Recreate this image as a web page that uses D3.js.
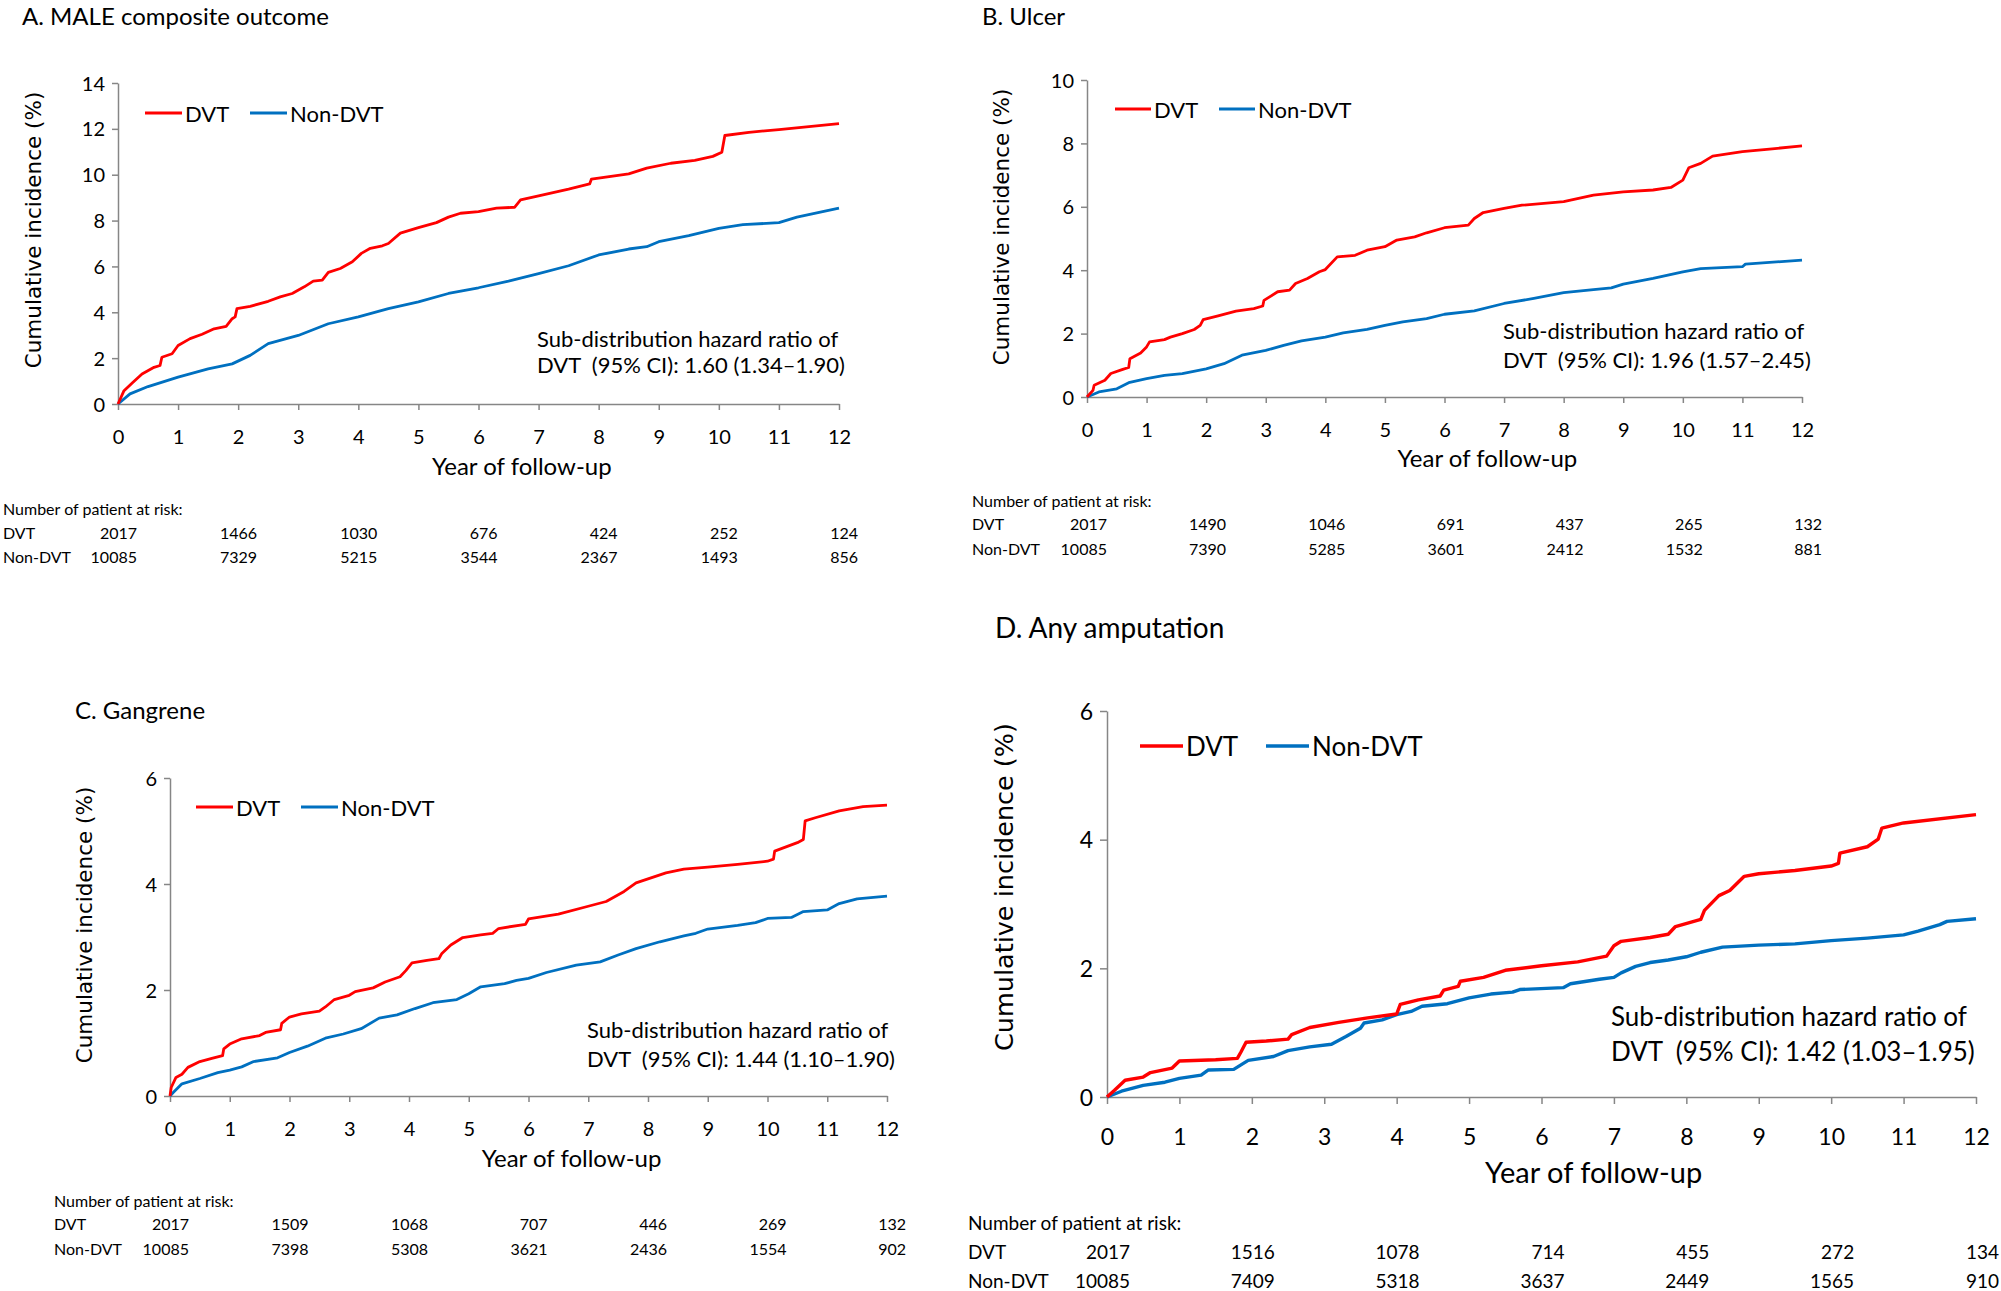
<!DOCTYPE html>
<html>
<head>
<meta charset="utf-8">
<script src="https://cdn.jsdelivr.net/npm/d3@7"></script>
<style>
  body { margin: 0; background: #fff; }
  svg { display: block; }
  .lato { font-family: Lato, "Open Sans", sans-serif; fill: #000; }
  .ytitle { font-family: "DejaVu Sans", Verdana, sans-serif; fill: #000; }
</style>
</head>
<body>
<svg id="chart" width="2001" height="1291"></svg>
<script>
// cumulative incidence (%): [year, value]
const maleDvt = [[0,0],[0.1,0.58],[0.25,0.95],[0.4,1.31],[0.6,1.6],[0.7,1.68],[0.73,2.04],[0.9,2.19],[1.0,2.55],[1.2,2.85],[1.4,3.04],[1.6,3.28],[1.8,3.39],[1.9,3.72],[1.95,3.8],[1.98,4.16],[2.2,4.26],[2.5,4.48],[2.7,4.67],[2.9,4.82],[3.1,5.11],[3.25,5.36],[3.4,5.4],[3.5,5.74],[3.7,5.91],[3.9,6.2],[4.05,6.57],[4.2,6.79],[4.4,6.9],[4.5,7.0],[4.7,7.45],[5.0,7.69],[5.3,7.91],[5.5,8.15],[5.7,8.32],[6.0,8.39],[6.3,8.54],[6.6,8.58],[6.7,8.9],[7.0,9.08],[7.5,9.37],[7.85,9.6],[7.88,9.81],[8.5,10.04],[8.8,10.29],[9.2,10.5],[9.6,10.63],[9.9,10.8],[10.05,10.98],[10.1,11.71],[10.5,11.85],[11,11.97],[12,12.23]];
const maleNon = [[0,0],[0.2,0.44],[0.5,0.76],[1.0,1.17],[1.5,1.53],[1.9,1.75],[2.2,2.12],[2.5,2.63],[3.0,2.99],[3.5,3.5],[4.0,3.8],[4.5,4.16],[5.0,4.45],[5.5,4.82],[6.0,5.07],[6.5,5.36],[7.0,5.69],[7.5,6.03],[8.0,6.5],[8.5,6.76],[8.8,6.86],[9.0,7.08],[9.5,7.34],[10.0,7.66],[10.4,7.82],[11.0,7.91],[11.3,8.15],[12,8.54]];
const ulcerDvt = [[0,0],[0.1,0.21],[0.12,0.37],[0.3,0.53],[0.4,0.74],[0.6,0.87],[0.7,0.93],[0.72,1.21],[0.9,1.39],[1.0,1.58],[1.05,1.74],[1.3,1.81],[1.4,1.89],[1.6,2.0],[1.8,2.13],[1.9,2.26],[1.95,2.44],[2.2,2.56],[2.5,2.71],[2.8,2.79],[2.95,2.87],[2.97,3.05],[3.2,3.32],[3.4,3.37],[3.5,3.58],[3.7,3.74],[3.9,3.95],[4.0,4.02],[4.2,4.42],[4.5,4.47],[4.7,4.63],[5.0,4.74],[5.2,4.95],[5.5,5.05],[5.7,5.18],[6.0,5.34],[6.4,5.42],[6.5,5.63],[6.65,5.82],[7.0,5.95],[7.3,6.05],[8.0,6.16],[8.5,6.37],[9.0,6.47],[9.5,6.53],[9.8,6.61],[10.0,6.84],[10.1,7.23],[10.3,7.37],[10.5,7.6],[11,7.74],[11.5,7.83],[12,7.92]];
const ulcerNon = [[0,0],[0.2,0.16],[0.5,0.26],[0.7,0.45],[1.0,0.58],[1.3,0.68],[1.6,0.74],[2.0,0.89],[2.3,1.05],[2.6,1.32],[3.0,1.47],[3.3,1.63],[3.6,1.77],[4.0,1.89],[4.3,2.02],[4.7,2.13],[5.0,2.26],[5.3,2.37],[5.7,2.47],[6.0,2.61],[6.5,2.72],[7.0,2.95],[7.5,3.11],[8.0,3.29],[8.5,3.39],[8.8,3.44],[9.0,3.56],[9.5,3.74],[10.0,3.95],[10.3,4.05],[11.0,4.11],[11.05,4.19],[12,4.32]];
const gangDvt = [[0,0],[0.02,0.16],[0.1,0.35],[0.2,0.41],[0.3,0.54],[0.5,0.65],[0.7,0.71],[0.88,0.76],[0.9,0.89],[1.0,0.98],[1.2,1.08],[1.5,1.14],[1.6,1.2],[1.85,1.25],[1.87,1.37],[2.0,1.49],[2.2,1.55],[2.5,1.6],[2.6,1.68],[2.75,1.82],[3.0,1.9],[3.1,1.97],[3.4,2.04],[3.6,2.15],[3.85,2.25],[3.95,2.37],[4.05,2.51],[4.3,2.56],[4.5,2.59],[4.55,2.69],[4.7,2.85],[4.9,2.99],[5.2,3.04],[5.4,3.07],[5.5,3.16],[5.95,3.24],[6.0,3.34],[6.5,3.43],[7.0,3.58],[7.3,3.67],[7.6,3.86],[7.8,4.02],[8.3,4.21],[8.6,4.28],[9.0,4.32],[9.5,4.37],[10.0,4.43],[10.1,4.47],[10.12,4.62],[10.5,4.78],[10.6,4.84],[10.63,5.19],[10.8,5.25],[11.2,5.38],[11.6,5.46],[12,5.49]];
const gangNon = [[0,0],[0.05,0.06],[0.2,0.23],[0.5,0.33],[0.8,0.44],[1.0,0.49],[1.2,0.55],[1.4,0.65],[1.8,0.72],[2.0,0.82],[2.3,0.94],[2.6,1.09],[2.9,1.17],[3.2,1.27],[3.5,1.47],[3.8,1.53],[4.1,1.65],[4.4,1.76],[4.8,1.82],[5.0,1.93],[5.2,2.06],[5.6,2.12],[5.8,2.18],[6.0,2.22],[6.3,2.33],[6.8,2.47],[7.2,2.53],[7.5,2.66],[7.8,2.78],[8.2,2.91],[8.6,3.02],[8.8,3.07],[9.0,3.15],[9.5,3.22],[9.8,3.27],[10.0,3.35],[10.4,3.37],[10.6,3.48],[11.0,3.51],[11.2,3.63],[11.5,3.72],[12,3.77]];
const ampDvt = [[0,0],[0.1,0.1],[0.25,0.26],[0.5,0.31],[0.6,0.38],[0.9,0.45],[1.0,0.56],[1.5,0.58],[1.8,0.6],[1.85,0.7],[1.92,0.85],[2.2,0.87],[2.5,0.9],[2.55,0.97],[2.8,1.08],[3.2,1.16],[3.6,1.23],[4.0,1.29],[4.05,1.44],[4.3,1.51],[4.6,1.57],[4.65,1.66],[4.85,1.72],[4.88,1.8],[5.2,1.86],[5.5,1.97],[6.0,2.04],[6.5,2.1],[6.9,2.19],[7.0,2.35],[7.1,2.42],[7.5,2.48],[7.75,2.53],[7.85,2.65],[8.2,2.76],[8.25,2.9],[8.45,3.13],[8.6,3.21],[8.8,3.43],[9.0,3.47],[9.5,3.52],[10.0,3.59],[10.1,3.63],[10.12,3.79],[10.5,3.89],[10.65,4.01],[10.7,4.18],[11.0,4.26],[12,4.39]];
const ampNon = [[0,0],[0.2,0.09],[0.5,0.18],[0.8,0.23],[1.0,0.29],[1.3,0.34],[1.4,0.42],[1.75,0.43],[1.85,0.5],[1.95,0.57],[2.3,0.63],[2.5,0.72],[2.8,0.78],[3.1,0.82],[3.3,0.94],[3.5,1.07],[3.55,1.15],[3.8,1.2],[4.0,1.28],[4.2,1.33],[4.35,1.41],[4.7,1.45],[5.0,1.54],[5.3,1.6],[5.6,1.63],[5.7,1.67],[6.3,1.7],[6.4,1.76],[6.8,1.83],[7.0,1.86],[7.1,1.93],[7.3,2.03],[7.5,2.09],[7.75,2.13],[8.0,2.18],[8.2,2.25],[8.5,2.33],[9.0,2.36],[9.5,2.38],[10.0,2.43],[10.5,2.47],[11.0,2.52],[11.2,2.58],[11.5,2.68],[11.6,2.73],[12,2.77]];

// number at risk
const riskYears = [0, 2, 4, 6, 8, 10, 12];
const maleRiskDvt = [2017, 1466, 1030, 676, 424, 252, 124];
const maleRiskNon = [10085, 7329, 5215, 3544, 2367, 1493, 856];
const ulcerRiskDvt = [2017, 1490, 1046, 691, 437, 265, 132];
const ulcerRiskNon = [10085, 7390, 5285, 3601, 2412, 1532, 881];
const gangRiskDvt = [2017, 1509, 1068, 707, 446, 269, 132];
const gangRiskNon = [10085, 7398, 5308, 3621, 2436, 1554, 902];
const ampRiskDvt = [2017, 1516, 1078, 714, 455, 272, 134];
const ampRiskNon = [10085, 7409, 5318, 3637, 2449, 1565, 910];

const groups = ["DVT", "Non-DVT"];
const colors = { "DVT": "#FF0000", "Non-DVT": "#0070C0" };

const panels = [
  { title: "A. MALE composite outcome", ymax: 14, ystep: 2, dvt: maleDvt, non: maleNon,
    riskDvt: maleRiskDvt, riskNon: maleRiskNon, hr: "DVT  (95% CI): 1.60 (1.34\u20131.90)" },
  { title: "B. Ulcer", ymax: 10, ystep: 2, dvt: ulcerDvt, non: ulcerNon,
    riskDvt: ulcerRiskDvt, riskNon: ulcerRiskNon, hr: "DVT  (95% CI): 1.96 (1.57\u20132.45)" },
  { title: "C. Gangrene", ymax: 6, ystep: 2, dvt: gangDvt, non: gangNon,
    riskDvt: gangRiskDvt, riskNon: gangRiskNon, hr: "DVT  (95% CI): 1.44 (1.10\u20131.90)" },
  { title: "D. Any amputation", ymax: 6, ystep: 2, dvt: ampDvt, non: ampNon,
    riskDvt: ampRiskDvt, riskNon: ampRiskNon, hr: "DVT  (95% CI): 1.42 (1.03\u20131.95)" }
];

// placement of each panel on the page
const layout = [
  { left: 118, right: 839, top: 83, bottom: 404, titleX: 22, titleY: 25, fTitle: 24,
    yTitleX: 35, yTitleY: 230, fYTitle: 21.5, legY: 113, legX: [145, 250], legLen: 37, fLeg: 22,
    hrX: 537, hrY: [347, 373], fHr: 22, fTick: 20, tickGap: 9, tickLen: 6, xLabDy: 35, xTitleDy: 71, fXTitle: 24,
    riskX: 3, riskY: [515, 539, 563], fRisk: 16, riskDx: 19, lw: 2.8 },
  { left: 1087, right: 1802, top: 80, bottom: 397, titleX: 982, titleY: 25, fTitle: 24,
    yTitleX: 1003, yTitleY: 227, fYTitle: 21.5, legY: 109, legX: [1115, 1219], legLen: 36, fLeg: 22,
    hrX: 1503, hrY: [339, 368], fHr: 22, fTick: 20, tickGap: 9, tickLen: 6, xLabDy: 35, xTitleDy: 70, fXTitle: 24,
    riskX: 972, riskY: [507, 530, 555], fRisk: 16, riskDx: 20, lw: 2.8 },
  { left: 170, right: 887, top: 778, bottom: 1096, titleX: 75, titleY: 719, fTitle: 24,
    yTitleX: 86, yTitleY: 925, fYTitle: 21.5, legY: 807, legX: [196, 301], legLen: 37, fLeg: 22,
    hrX: 587, hrY: [1038, 1067], fHr: 22, fTick: 20, tickGap: 9, tickLen: 6, xLabDy: 35, xTitleDy: 71, fXTitle: 24,
    riskX: 54, riskY: [1207, 1230, 1255], fRisk: 16, riskDx: 19, lw: 2.8 },
  { left: 1107, right: 1976, top: 711, bottom: 1097, titleX: 995, titleY: 638, fTitle: 28,
    yTitleX: 1006, yTitleY: 887, fYTitle: 25.5, legY: 746, legX: [1140, 1266], legLen: 43, fLeg: 26,
    hrX: 1611, hrY: [1026, 1061], fHr: 26, fTick: 23, tickGap: 10, tickLen: 7, xLabDy: 42, xTitleDy: 86, fXTitle: 29,
    riskX: 968, riskY: [1230, 1259, 1288], fRisk: 19, riskDx: 23, lw: 3.4 }
];

const svg = d3.select("#chart");
svg.append("rect").attr("width", 2001).attr("height", 1291).attr("fill", "#fff");

panels.forEach((p, i) => {
  const L = layout[i];
  const g = svg.append("g");

  const x = d3.scaleLinear().domain([0, 12]).range([L.left, L.right]);
  const y = d3.scaleLinear().domain([0, p.ymax]).range([L.bottom, L.top]);

  // axes
  const yAxis = d3.axisLeft(y)
    .tickValues(d3.range(0, p.ymax + 0.001, p.ystep))
    .tickSize(L.tickLen).tickSizeOuter(0).tickPadding(L.tickGap - L.tickLen + 4)
    .tickFormat(d3.format("d"));
  const xAxis = d3.axisBottom(x)
    .tickValues(d3.range(0, 13))
    .tickSize(L.tickLen).tickSizeOuter(0).tickPadding(4)
    .tickFormat(d3.format("d"));

  const gy = g.append("g").attr("transform", `translate(${L.left},0)`).call(yAxis);
  const gx = g.append("g").attr("transform", `translate(0,${L.bottom})`).call(xAxis);
  [gx, gy].forEach(a => {
    a.select(".domain").attr("stroke", "#868686").attr("stroke-width", 1.5);
    a.selectAll(".tick line").attr("stroke", "#868686").attr("stroke-width", 1.5);
    a.selectAll(".tick text").attr("class", "lato").attr("font-size", L.fTick).attr("fill", "#000");
  });
  gx.selectAll(".tick text").attr("y", null).attr("dy", null)
    .attr("transform", `translate(0,${L.xLabDy})`).attr("dominant-baseline", "middle");
  gy.selectAll(".tick text").attr("dy", "0.35em");

  // curves
  const line = d3.line().x(d => x(d[0])).y(d => y(d[1]));
  [[p.non, "Non-DVT"], [p.dvt, "DVT"]].forEach(([data, key]) => {
    g.append("path").datum(data)
      .attr("d", line)
      .attr("fill", "none")
      .attr("stroke", colors[key])
      .attr("stroke-width", L.lw)
      .attr("stroke-linejoin", "round");
  });

  // titles
  g.append("text").attr("class", "lato").attr("x", L.titleX).attr("y", L.titleY)
    .attr("font-size", L.fTitle).text(p.title);
  g.append("text").attr("class", "ytitle")
    .attr("transform", `translate(${L.yTitleX},${L.yTitleY}) rotate(-90)`)
    .attr("text-anchor", "middle").attr("dominant-baseline", "middle")
    .attr("font-size", L.fYTitle).text("Cumulative incidence (%)");
  g.append("text").attr("class", "lato")
    .attr("x", x(6.72)).attr("y", L.bottom + L.xTitleDy)
    .attr("text-anchor", "middle").attr("font-size", L.fXTitle).text("Year of follow-up");

  // legend
  groups.forEach((key, k) => {
    g.append("line")
      .attr("x1", L.legX[k]).attr("x2", L.legX[k] + L.legLen)
      .attr("y1", L.legY).attr("y2", L.legY)
      .attr("stroke", colors[key]).attr("stroke-width", L.lw);
    g.append("text").attr("class", "lato")
      .attr("x", L.legX[k] + L.legLen + 3).attr("y", L.legY)
      .attr("dominant-baseline", "central")
      .attr("font-size", L.fLeg).text(key);
  });

  // hazard ratio note
  g.append("text").attr("class", "lato").attr("x", L.hrX).attr("y", L.hrY[0])
    .attr("font-size", L.fHr).text("Sub-distribution hazard ratio of");
  g.append("text").attr("class", "lato").attr("x", L.hrX).attr("y", L.hrY[1])
    .attr("font-size", L.fHr).attr("xml:space", "preserve").style("white-space", "pre").text(p.hr);

  // number at risk table
  g.append("text").attr("class", "lato").attr("x", L.riskX).attr("y", L.riskY[0])
    .attr("font-size", L.fRisk).text("Number of patient at risk:");
  [[p.riskDvt, "DVT"], [p.riskNon, "Non-DVT"]].forEach(([row, key], r) => {
    g.append("text").attr("class", "lato").attr("x", L.riskX).attr("y", L.riskY[r + 1])
      .attr("font-size", L.fRisk).text(key);
    g.selectAll(null).data(row).enter().append("text")
      .attr("class", "lato")
      .attr("x", (d, j) => x(riskYears[j]) + L.riskDx)
      .attr("y", L.riskY[r + 1])
      .attr("text-anchor", "end")
      .attr("font-size", L.fRisk)
      .text(d => d);
  });
});
</script>
</body>
</html>
